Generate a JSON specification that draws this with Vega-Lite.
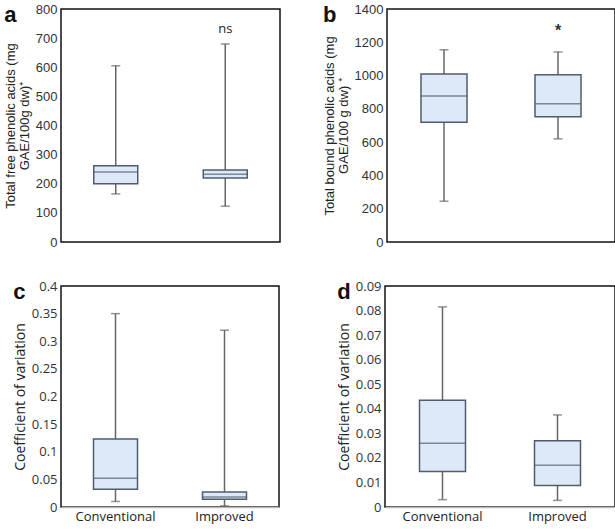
{
  "$schema": "https://vega.github.io/schema/vega-lite/v6.json",
  "padding": {"left": 3, "top": 2, "right": 2, "bottom": 0},
  "background": "white",
  "config": {
    "view": {"stroke": "#111", "strokeWidth": 1.5},
    "font": "Liberation Sans",
    "title": {"anchor": "start", "frame": "bounds", "fontSize": 22, "fontWeight": "bold", "font": "Liberation Sans", "color": "#111", "offset": -24, "baseline": "top"},
    "axisY": {"ticks": false, "domain": false, "grid": false, "labelOverlap": false, "labelFont": "Liberation Sans", "labelFontSize": 13, "labelColor": "#333", "labelPadding": 4, "titleFont": "Liberation Sans", "titleFontSize": 13, "titleLineHeight": 14, "titleFontWeight": "normal", "titleColor": "#222", "titlePadding": 4}
  },
  "datasets": {
    "stats": [
      {"panel": "a", "group": "Conventional", "min": 165, "q1": 200, "median": 240, "q3": 262, "max": 605},
      {"panel": "a", "group": "Improved", "min": 123, "q1": 220, "median": 233, "q3": 247, "max": 680},
      {"panel": "b", "group": "Conventional", "min": 245, "q1": 720, "median": 878, "q3": 1010, "max": 1155},
      {"panel": "b", "group": "Improved", "min": 620, "q1": 752, "median": 830, "q3": 1005, "max": 1142},
      {"panel": "c", "group": "Conventional", "min": 0.01, "q1": 0.032, "median": 0.052, "q3": 0.123, "max": 0.35},
      {"panel": "c", "group": "Improved", "min": 0.002, "q1": 0.014, "median": 0.018, "q3": 0.027, "max": 0.32},
      {"panel": "d", "group": "Conventional", "min": 0.003, "q1": 0.0145, "median": 0.026, "q3": 0.0435, "max": 0.0815},
      {"panel": "d", "group": "Improved", "min": 0.0027, "q1": 0.0088, "median": 0.017, "q3": 0.027, "max": 0.0375}
    ],
    "notes": [
      {"panel": "a", "group": "Improved", "y": 731, "label": "ns"},
      {"panel": "b", "group": "Improved", "y": 1270, "label": "*"}
    ]
  },
  "spacing": 29,
  "vconcat": [
    {
      "spacing": 41,
      "hconcat": [
        {
          "width": 219, "height": 233,
          "title": {"text": "a"},
          "data": {"name": "stats"},
          "transform": [{"filter": "datum.panel === 'a'"}],
          "encoding": {"x": {"field": "group", "type": "nominal", "scale": {"domain": ["Conventional", "Improved"], "paddingInner": 0.6, "paddingOuter": 0.3}, "axis": null}},
          "layer": [
            {"mark": {"type": "rule", "color": "#666", "strokeWidth": 1.5}, "encoding": {"y": {"field": "min", "type": "quantitative", "scale": {"domain": [0, 800]}, "axis": {"values": [0, 100, 200, 300, 400, 500, 600, 700, 800], "tickCount": 20, "labelOverlap": false, "format": "d", "title": ["Total free phenolic acids (mg", "GAE/100g dw)⁺"]}}, "y2": {"field": "max"}}},
            {"mark": {"type": "tick", "color": "#666", "size": 9, "thickness": 1.5}, "encoding": {"y": {"field": "min", "type": "quantitative"}}},
            {"mark": {"type": "tick", "color": "#666", "size": 9, "thickness": 1.5}, "encoding": {"y": {"field": "max", "type": "quantitative"}}},
            {"mark": {"type": "bar", "fill": "#dde9f6", "stroke": "#4f5d6e", "strokeWidth": 1.5, "width": 44}, "encoding": {"y": {"field": "q1", "type": "quantitative"}, "y2": {"field": "q3"}}},
            {"mark": {"type": "tick", "color": "#4f5d6e", "size": 44, "thickness": 1.5}, "encoding": {"y": {"field": "median", "type": "quantitative"}}},
            {"data": {"name": "notes"}, "transform": [{"filter": "datum.panel === 'a'"}], "mark": {"type": "text", "font": "Open Sans", "fontSize": 13, "color": "#222"}, "encoding": {"y": {"field": "y", "type": "quantitative"}, "text": {"field": "label"}}}
          ]
        },
        {
          "width": 228, "height": 233,
          "title": {"text": "b"},
          "data": {"name": "stats"},
          "transform": [{"filter": "datum.panel === 'b'"}],
          "encoding": {"x": {"field": "group", "type": "nominal", "scale": {"domain": ["Conventional", "Improved"], "paddingInner": 0.6, "paddingOuter": 0.3}, "axis": null}},
          "layer": [
            {"mark": {"type": "rule", "color": "#666", "strokeWidth": 1.5}, "encoding": {"y": {"field": "min", "type": "quantitative", "scale": {"domain": [0, 1400]}, "axis": {"values": [0, 200, 400, 600, 800, 1000, 1200, 1400], "tickCount": 20, "labelOverlap": false, "format": "d", "title": ["Total bound phenolic acids (mg", "GAE/100 g dw) ⁺"]}}, "y2": {"field": "max"}}},
            {"mark": {"type": "tick", "color": "#666", "size": 9, "thickness": 1.5}, "encoding": {"y": {"field": "min", "type": "quantitative"}}},
            {"mark": {"type": "tick", "color": "#666", "size": 9, "thickness": 1.5}, "encoding": {"y": {"field": "max", "type": "quantitative"}}},
            {"mark": {"type": "bar", "fill": "#dde9f6", "stroke": "#4f5d6e", "strokeWidth": 1.5, "width": 46}, "encoding": {"y": {"field": "q1", "type": "quantitative"}, "y2": {"field": "q3"}}},
            {"mark": {"type": "tick", "color": "#4f5d6e", "size": 46, "thickness": 1.5}, "encoding": {"y": {"field": "median", "type": "quantitative"}}},
            {"data": {"name": "notes"}, "transform": [{"filter": "datum.panel === 'b'"}], "mark": {"type": "text", "font": "Liberation Sans", "fontSize": 16, "fontWeight": "bold", "color": "#333"}, "encoding": {"y": {"field": "y", "type": "quantitative"}, "text": {"field": "label"}}}
          ]
        }
      ]
    },
    {
      "spacing": 56,
      "hconcat": [
        {
          "width": 218, "height": 221,
          "title": {"text": "c"},
          "data": {"name": "stats"},
          "transform": [{"filter": "datum.panel === 'c'"}],
          "encoding": {"x": {"field": "group", "type": "nominal", "scale": {"domain": ["Conventional", "Improved"], "paddingInner": 0.6, "paddingOuter": 0.3}, "axis": {"title": null, "labelAngle": 0, "ticks": false, "domainColor": "#bbb", "domainWidth": 1.5, "labelFont": "Open Sans", "labelFontSize": 13, "labelColor": "#222", "labelPadding": 3}}},
          "layer": [
            {"mark": {"type": "rule", "color": "#666", "strokeWidth": 1.5}, "encoding": {"y": {"field": "min", "type": "quantitative", "scale": {"domain": [0, 0.4]}, "axis": {"values": [0, 0.05, 0.1, 0.15, 0.2, 0.25, 0.3, 0.35, 0.4], "tickCount": 20, "labelOverlap": false, "format": "~g", "title": "Coefficient of variation", "titleFont": "Open Sans", "titleFontSize": 14, "labelFont": "Open Sans", "labelFontSize": 13}}, "y2": {"field": "max"}}},
            {"mark": {"type": "tick", "color": "#666", "size": 9, "thickness": 1.5}, "encoding": {"y": {"field": "min", "type": "quantitative"}}},
            {"mark": {"type": "tick", "color": "#666", "size": 9, "thickness": 1.5}, "encoding": {"y": {"field": "max", "type": "quantitative"}}},
            {"mark": {"type": "bar", "fill": "#dde9f6", "stroke": "#4f5d6e", "strokeWidth": 1.5, "width": 44}, "encoding": {"y": {"field": "q1", "type": "quantitative"}, "y2": {"field": "q3"}}},
            {"mark": {"type": "tick", "color": "#4f5d6e", "size": 44, "thickness": 1.5}, "encoding": {"y": {"field": "median", "type": "quantitative"}}}
          ]
        },
        {
          "width": 230, "height": 221,
          "title": {"text": "d"},
          "data": {"name": "stats"},
          "transform": [{"filter": "datum.panel === 'd'"}],
          "encoding": {"x": {"field": "group", "type": "nominal", "scale": {"domain": ["Conventional", "Improved"], "paddingInner": 0.6, "paddingOuter": 0.3}, "axis": {"title": null, "labelAngle": 0, "ticks": false, "domainColor": "#bbb", "domainWidth": 1.5, "labelFont": "Open Sans", "labelFontSize": 13, "labelColor": "#222", "labelPadding": 3}}},
          "layer": [
            {"mark": {"type": "rule", "color": "#666", "strokeWidth": 1.5}, "encoding": {"y": {"field": "min", "type": "quantitative", "scale": {"domain": [0, 0.09]}, "axis": {"values": [0, 0.01, 0.02, 0.03, 0.04, 0.05, 0.06, 0.07, 0.08, 0.09], "tickCount": 20, "labelOverlap": false, "format": "~g", "title": "Coefficient of variation", "titleFont": "Open Sans", "titleFontSize": 14, "labelFont": "Open Sans", "labelFontSize": 13}}, "y2": {"field": "max"}}},
            {"mark": {"type": "tick", "color": "#666", "size": 9, "thickness": 1.5}, "encoding": {"y": {"field": "min", "type": "quantitative"}}},
            {"mark": {"type": "tick", "color": "#666", "size": 9, "thickness": 1.5}, "encoding": {"y": {"field": "max", "type": "quantitative"}}},
            {"mark": {"type": "bar", "fill": "#dde9f6", "stroke": "#4f5d6e", "strokeWidth": 1.5, "width": 46}, "encoding": {"y": {"field": "q1", "type": "quantitative"}, "y2": {"field": "q3"}}},
            {"mark": {"type": "tick", "color": "#4f5d6e", "size": 46, "thickness": 1.5}, "encoding": {"y": {"field": "median", "type": "quantitative"}}}
          ]
        }
      ]
    }
  ]
}
